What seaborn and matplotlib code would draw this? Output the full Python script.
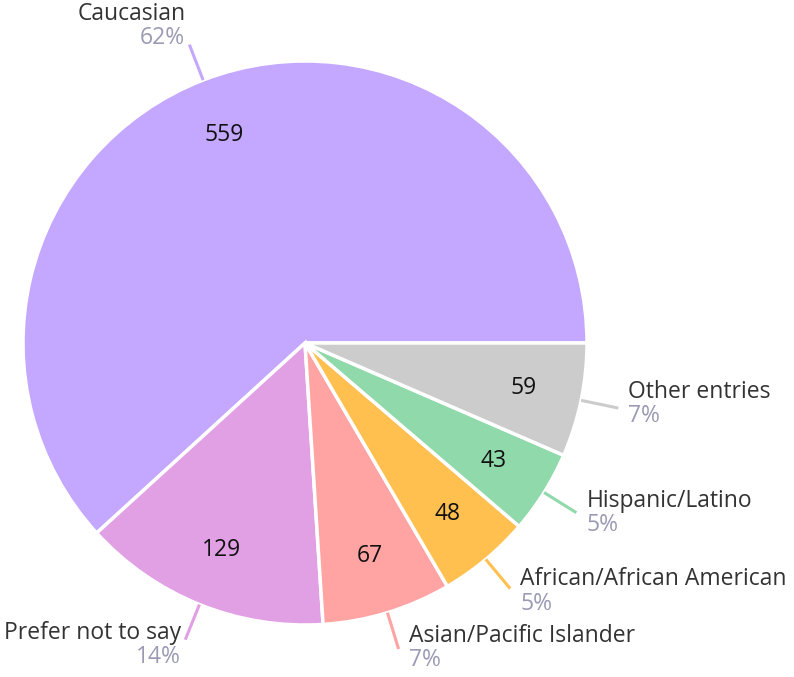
import numpy as np
import matplotlib
matplotlib.use("Agg")
import matplotlib.pyplot as plt
import seaborn as sns

categories = ["Caucasian", "Prefer not to say", "Asian/Pacific Islander",
              "African/African American", "Hispanic/Latino", "Other entries"]
values = [559, 129, 67, 48, 43, 59]
colors = ["#c4a7ff", "#e2a0e4", "#ffa3a3", "#ffc04f", "#8fd9aa", "#cccccc"]

sns.set_theme(style="white")
plt.rcParams['font.family'] = ['Open Sans', 'DejaVu Sans']

W, H = 794, 677
fig = plt.figure(figsize=(W / 100, H / 100), dpi=100)
ax = fig.add_axes([0, 0, 1, 1])

cx, cy, R = 305, H - 343, 282
total = sum(values)

wedges, _, autotexts = ax.pie(
    values, colors=colors, startangle=0, counterclock=True,
    center=(cx, cy), radius=R,
    autopct=lambda p: f"{int(round(p * total / 100))}",
    pctdistance=0.79,
    wedgeprops=dict(edgecolor="white", linewidth=2.5),
    textprops=dict(fontsize=16.5, color="#111111"),
)
ax.set_xlim(0, W)
ax.set_ylim(0, H)
ax.set_aspect("equal")
ax.axis("off")

name_color = "#333333"
pct_color = "#9a9ab4"
for w, name, v, col in zip(wedges, categories, values, colors):
    ang = np.deg2rad((w.theta1 + w.theta2) / 2)
    c, s = np.cos(ang), np.sin(ang)
    x0, y0 = cx + R * c, cy + R * s
    x1, y1 = cx + 320 * c, cy + 320 * s
    ax.plot([x0, x1], [y0, y1], color=col, lw=2.2, solid_capstyle="butt")
    pct = f"{round(v / total * 100)}%"
    ha = "left" if c > 0 else "right"
    dx = 10 if c > 0 else -4
    off = -6.5 - 12.9 * s  # block center offset (pixels, downward)
    ny = y1 - (off - 12.5)
    py = y1 - (off + 12)
    if py < 17:
        shift = 17 - py
        ny += shift
        py += shift
    ax.text(x1 + dx, ny, name, ha=ha, va="center", fontsize=16.5, color=name_color)
    ax.text(x1 + dx, py, pct, ha=ha, va="center", fontsize=16.5, color=pct_color)

fig.savefig("out.png", dpi=100)
